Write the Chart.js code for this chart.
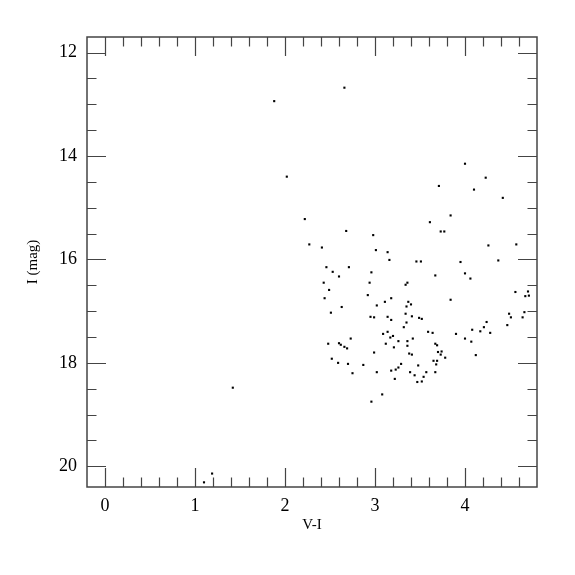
<!DOCTYPE html>
<html>
<head>
<meta charset="utf-8">
<script src="https://cdn.jsdelivr.net/npm/chart.js@4/dist/chart.umd.min.js"></script>
<style>
  html, body { margin: 0; padding: 0; background: #fff; }
  #wrap { width: 575px; height: 575px; }
</style>
</head>
<body>
<div id="wrap"><canvas id="cmd"></canvas></div>
<script>
// V-I colour and I magnitude for each star
const colorVI = [
  2.66, 1.88, 2.02, 2.22, 2.27, 2.41, 2.68, 2.98, 3.01, 3.14,
  4.00, 4.23, 3.71, 4.10, 4.42, 3.84, 3.61, 3.73, 3.77, 4.26,
  4.57, 3.16, 3.46, 3.51, 3.95, 4.37, 2.46, 2.71, 2.53, 2.60,
  2.96, 3.67, 4.00, 4.06, 2.43, 2.94, 3.36, 3.34, 2.49, 2.44,
  2.92, 3.18, 3.11, 3.37, 3.40, 3.02, 3.35, 3.84, 2.63, 2.51,
  3.34, 2.95, 2.99, 3.14, 3.41, 3.49, 3.52, 3.18, 3.35, 3.32,
  4.56, 4.70, 4.67, 4.71, 4.49, 4.51, 4.66, 4.64, 4.24, 4.21,
  4.47, 4.08, 4.17, 4.28, 3.59, 3.64, 3.90, 4.00, 3.09, 3.14,
  3.20, 3.17, 2.73, 3.42, 4.07, 4.12, 2.48, 2.60, 2.62, 2.66,
  2.69, 2.52, 2.59, 2.70, 2.87, 2.75, 2.99, 3.12, 3.26, 3.21,
  3.36, 3.36, 3.38, 3.41, 3.67, 3.69, 3.70, 3.74, 3.73, 3.78,
  3.65, 3.69, 3.68, 3.67, 3.48, 3.29, 3.26, 3.23, 3.18, 3.02,
  3.22, 3.39, 3.44, 3.54, 3.57, 3.47, 3.52, 3.08, 2.96, 1.42,
  1.10, 1.19
];
const magI = [
  12.68, 12.94, 14.40, 15.22, 15.71, 15.77, 15.45, 15.53, 15.82, 15.86,
  14.15, 14.42, 14.58, 14.65, 14.81, 15.15, 15.28, 15.46, 15.46, 15.73,
  15.71, 16.01, 16.04, 16.04, 16.05, 16.02, 16.15, 16.15, 16.24, 16.33,
  16.25, 16.31, 16.27, 16.37, 16.45, 16.45, 16.45, 16.49, 16.59, 16.75,
  16.69, 16.75, 16.82, 16.82, 16.87, 16.89, 16.91, 16.78, 16.92, 17.03,
  17.05, 17.11, 17.12, 17.11, 17.10, 17.13, 17.15, 17.17, 17.22, 17.31,
  16.63, 16.62, 16.71, 16.70, 17.05, 17.12, 17.02, 17.12, 17.21, 17.31,
  17.27, 17.36, 17.39, 17.42, 17.40, 17.42, 17.44, 17.53, 17.44, 17.40,
  17.48, 17.51, 17.53, 17.53, 17.59, 17.85, 17.63, 17.62, 17.65, 17.69,
  17.72, 17.92, 18.00, 18.02, 18.04, 18.20, 17.80, 17.63, 17.58, 17.70,
  17.58, 17.67, 17.82, 17.84, 17.63, 17.66, 17.79, 17.78, 17.84, 17.90,
  17.96, 17.96, 18.03, 18.18, 18.05, 18.02, 18.09, 18.13, 18.15, 18.18,
  18.31, 18.18, 18.24, 18.27, 18.18, 18.37, 18.36, 18.61, 18.75, 18.48,
  20.31, 20.14
];

const xTickLabels = [0, 1, 2, 3, 4];
const yTickLabels = [12, 14, 16, 18, 20];
const xMinorStep = 0.2;
const yMinorStep = 0.5;

const points = colorVI.map((v, i) => ({ x: v, y: magI[i] }));

// frame plus inward ticks on all four sides
const frameTicks = {
  id: 'frameTicks',
  afterDraw(chart) {
    const { ctx, chartArea: a } = chart;
    const sx = chart.scales.x, sy = chart.scales.y;
    const major = 19, minor = 9.5;
    ctx.save();
    ctx.strokeStyle = '#444';
    ctx.lineWidth = 1.2;
    ctx.beginPath();
    const xMin = sx.min, xMax = sx.max;
    for (let k = Math.ceil(xMin / xMinorStep); k * xMinorStep <= xMax + 1e-9; k++) {
      const v = +(k * xMinorStep).toFixed(3);
      const px = Math.round(sx.getPixelForValue(v)) + 0.5;
      if (px <= a.left + 1 || px >= a.right - 1) continue;
      const len = xTickLabels.includes(v) ? major : minor;
      ctx.moveTo(px, a.bottom); ctx.lineTo(px, a.bottom - len);
      ctx.moveTo(px, a.top); ctx.lineTo(px, a.top + len);
    }
    const yMin = sy.min, yMax = sy.max;
    for (let k = Math.ceil(yMin / yMinorStep); k * yMinorStep <= yMax + 1e-9; k++) {
      const v = +(k * yMinorStep).toFixed(3);
      const py = Math.round(sy.getPixelForValue(v)) + 0.5;
      if (py <= a.top + 1 || py >= a.bottom - 1) continue;
      const len = yTickLabels.includes(v) ? major : minor;
      ctx.moveTo(a.left, py); ctx.lineTo(a.left + len, py);
      ctx.moveTo(a.right, py); ctx.lineTo(a.right - len, py);
    }
    ctx.stroke();
    ctx.lineWidth = 1.5;
    ctx.strokeRect(a.left, a.top, a.right - a.left, a.bottom - a.top);
    ctx.restore();
  }
};

const tickFont = { family: '"Liberation Serif", serif', size: 18 };
const titleFont = { family: '"Liberation Serif", serif', size: 15 };

new Chart(document.getElementById('cmd'), {
  type: 'scatter',
  data: {
    datasets: [{
      label: 'stars',
      data: points,
      backgroundColor: '#000',
      borderWidth: 0,
      pointStyle: 'rect',
      pointRadius: 1.5,
      pointHoverRadius: 1.5
    }]
  },
  options: {
    responsive: true,
    maintainAspectRatio: false,
    animation: false,
    layout: { padding: { left: 0, top: 37, right: 38, bottom: 0 } },
    plugins: { legend: { display: false }, tooltip: { enabled: false } },
    scales: {
      x: {
        type: 'linear',
        min: -0.2,
        max: 4.8,
        grid: { display: false, drawTicks: false },
        border: { display: false },
        afterBuildTicks: s => { s.ticks = xTickLabels.map(v => ({ value: v })); },
        afterFit: s => { s.height = 88; },
        ticks: { color: '#000', font: tickFont, padding: 8, maxRotation: 0 },
        title: { display: true, text: 'V-I', color: '#000', font: titleFont, padding: { top: 0, bottom: 41 } }
      },
      y: {
        type: 'linear',
        reverse: true,
        min: 11.7,
        max: 20.4,
        grid: { display: false, drawTicks: false },
        border: { display: false },
        afterBuildTicks: s => { s.ticks = yTickLabels.map(v => ({ value: v })); },
        afterFit: s => { s.width = 87; },
        ticks: { color: '#000', font: tickFont, padding: 10 },
        title: { display: true, text: 'I (mag)', color: '#000', font: titleFont, padding: { top: 24, bottom: 0 } }
      }
    }
  },
  plugins: [frameTicks]
});
</script>
</body>
</html>
